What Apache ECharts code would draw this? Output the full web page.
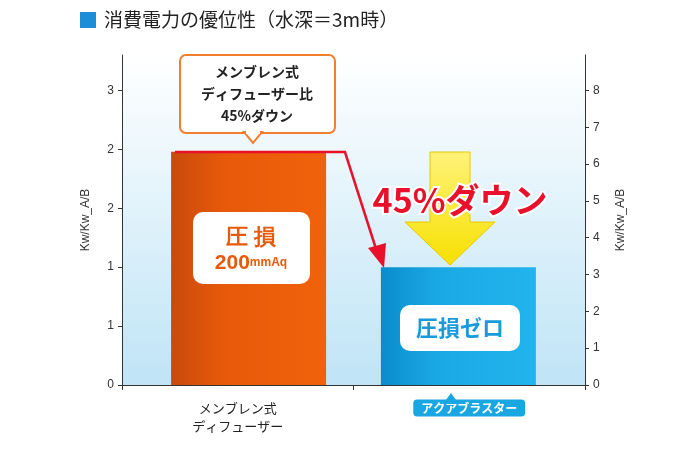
<!DOCTYPE html><html><head><meta charset="utf-8">
<script src="https://cdn.jsdelivr.net/npm/echarts@6/dist/echarts.min.js"></script>
<style>html,body{margin:0;background:#fff}#c{width:690px;height:453px}</style></head><body><div id="c"></div>
<script>
const categories=['メンブレン式\nディフューザー','アクアブラスター'];
const values=[1.98,1.0];
const leftMax=2.8, rightMax=8.96;
const chart=echarts.init(document.getElementById('c'));
const F='"Noto Sans CJK JP",sans-serif';
chart.setOption({
 animation:false,
 grid:{left:122,right:105,top:55,bottom:68},
 xAxis:{type:'category',data:categories,axisTick:{show:true,length:5,inside:false,lineStyle:{color:'#333'}},axisLine:{lineStyle:{color:'#333'}},
  axisLabel:{color:'#222',fontSize:13,fontFamily:F,lineHeight:18,margin:14,
   formatter:(v,i)=>i==0?v:'{b|'+v+'}',rich:{b:{backgroundColor:'#1aa6e0',color:'#fff',padding:[3,8,2,8],borderRadius:4,fontSize:12,fontWeight:'bold',fontFamily:F}}}},
 yAxis:[
  {type:'value',min:0,max:leftMax,interval:0.5,name:'Kw/Kw_A/B',nameLocation:'middle',nameGap:30,nameRotate:90,nameTextStyle:{fontSize:12,color:'#333'},
   axisLine:{show:true,lineStyle:{color:'#333'}},axisTick:{show:true,length:4},splitLine:{show:false},axisLabel:{formatter:v=>Math.round(v),color:'#333',fontSize:12,showMaxLabel:false}},
  {type:'value',min:0,max:rightMax,interval:1,name:'Kw/Kw_A/B',nameLocation:'middle',nameGap:30,nameRotate:90,nameTextStyle:{fontSize:12,color:'#333'},
   axisLine:{show:true,lineStyle:{color:'#333'}},axisTick:{show:true,length:4},splitLine:{show:false},axisLabel:{color:'#333',fontSize:12,showMaxLabel:false}}
 ],
 series:[
  {type:'bar',barWidth:155,barGap:'-86%',data:['-',{value:values[1],itemStyle:{color:new echarts.graphic.LinearGradient(0,0,1,0,[{offset:0,color:'#0a8ccc'},{offset:0.35,color:'#1aa8e4'},{offset:1,color:'#22b4ee'}])}}]},
  {type:'bar',barWidth:155,barGap:'-86%',data:[{value:values[0],itemStyle:{color:new echarts.graphic.LinearGradient(0,0,1,0,[{offset:0,color:'#c84a0c'},{offset:0.35,color:'#e85a0a'},{offset:1,color:'#f0620a'}])}},'-']},
  {type:'line',yAxisIndex:1,data:[],silent:true}],
 graphic:[
  {type:'rect',z:-10,shape:{x:122,y:55,width:463,height:330},style:{fill:new echarts.graphic.LinearGradient(0,0,0,1,[{offset:0,color:'#ffffff'},{offset:1,color:'#bfe4f6'}])}},
  {type:'rect',shape:{x:80,y:12,width:16,height:16},style:{fill:'#1a8fd8'}},
  {type:'text',x:104,y:10,style:{text:'消費電力の優位性（水深＝3m時）',fontSize:19,fontFamily:F,fill:'#222'}},
  {type:'rect',z:20,shape:{x:180,y:55,width:155,height:78,r:6},style:{fill:'#fff',stroke:'#f08030',lineWidth:2}},
  {type:'polygon',z:21,shape:{points:[[244,132],[262,132],[253,143]]},style:{fill:'#fff',stroke:'#f08030',lineWidth:2}},
  {type:'rect',z:22,shape:{x:246,y:130,width:14,height:4},style:{fill:'#fff'}},
  {type:'text',z:23,x:257,y:94,style:{text:'メンブレン式\nディフューザー比\n45%ダウン',align:'center',verticalAlign:'middle',fontSize:14,fontWeight:'bold',lineHeight:22,fontFamily:F,fill:'#222'}},
  {type:'rect',z:20,shape:{x:193,y:212,width:117,height:72,r:10},style:{fill:'#fff'}},
  {type:'text',z:21,x:251,y:248,style:{text:'{a|圧 損}\n{b|200}{c|mmAq}',align:'center',verticalAlign:'middle',fontFamily:F,fill:'#e65a0a',
   rich:{a:{fontSize:22,fontWeight:'bold',fill:'#e65a0a',lineHeight:30},b:{fontSize:21,fontWeight:'bold',fill:'#e65a0a'},c:{fontSize:12,fontWeight:'bold',fill:'#e65a0a'}}}},
  {type:'rect',z:20,shape:{x:400,y:305,width:120,height:46,r:10},style:{fill:'#fff'}},
  {type:'text',z:21,x:460,y:328,style:{text:'圧損ゼロ',align:'center',verticalAlign:'middle',fontSize:22,fontWeight:'bold',fontFamily:F,fill:'#1a9ad8'}},
  {type:'polyline',z:15,shape:{points:[[175,152],[345,152],[377,252]]},style:{stroke:'#e8102a',lineWidth:2.5,fill:null}},
  {type:'polygon',z:15,shape:{points:[[368,248],[384,268],[386,243]]},style:{fill:'#e8102a'}},
  {type:'polygon',z:14,shape:{points:[[430,152],[470,152],[470,222],[495,222],[450,265],[405,222],[430,222]]},style:{fill:new echarts.graphic.LinearGradient(0,0,0,1,[{offset:0,color:'#fff27a'},{offset:1,color:'#f7e000'}]),stroke:'#e8c800',lineWidth:1}},
  {type:'text',z:25,x:460,y:200,style:{text:'45%ダウン',align:'center',verticalAlign:'middle',fontSize:34,fontWeight:'bold',fontFamily:F,fill:'#e8102a',stroke:'#fff',lineWidth:4}},
  {type:'polygon',z:20,shape:{points:[[451,393],[459,404],[443,404]]},style:{fill:'#1aa6e0'}}
 ]
});
</script></body></html>
